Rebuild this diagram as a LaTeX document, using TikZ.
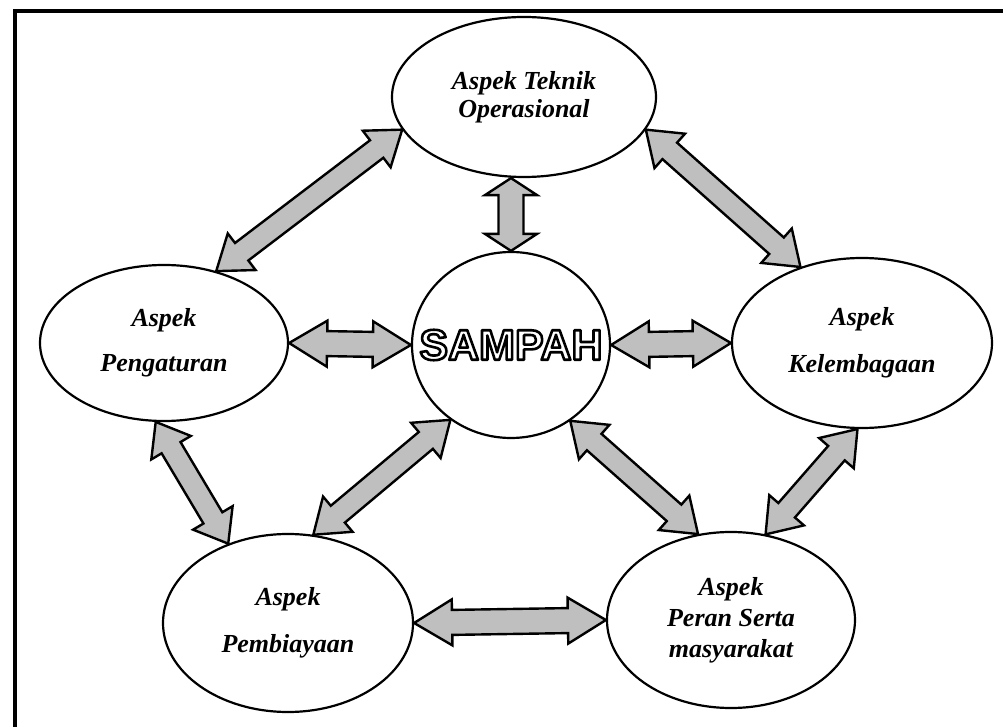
\documentclass[tikz,border=0pt]{standalone}
\usepackage{fontspec}
\setmainfont{Liberation Serif}
\newfontfamily\headfont{Liberation Sans}
\usetikzlibrary{calc,shapes.geometric}

% hollow lettering: white fill, black stroked outline
\newcommand\hollow[1]{{\color{white}%
  \special{pdf:literal direct q 2 Tr 1.3 w 0 G 1 j}#1\special{pdf:literal direct Q}}}

% double-headed block arrow between two points:
% #1 start, #2 end, #3 head length, #4 half head width, #5 half shaft width
\newcommand\twoway[5]{%
  \draw[blockarrow] (#1)
    -- ($(#1)!#3!(#2)!#4!90:(#2)$)
    -- ($(#1)!#3!(#2)!#5!90:(#2)$)
    -- ($(#2)!#3!(#1)!#5!-90:(#1)$)
    -- ($(#2)!#3!(#1)!#4!-90:(#1)$)
    -- (#2)
    -- ($(#2)!#3!(#1)!#4!90:(#1)$)
    -- ($(#2)!#3!(#1)!#5!90:(#1)$)
    -- ($(#1)!#3!(#2)!#5!-90:(#2)$)
    -- ($(#1)!#3!(#2)!#4!-90:(#2)$)
    -- cycle;}

\tikzset{
  aspect/.style={ellipse, draw, fill=white, line width=1.1pt, inner sep=0pt,
    align=center, font=\bfseries\itshape\fontsize{13}{#1}\selectfont},
  blockarrow/.style={draw, line width=1.2pt, fill=black!25, line join=miter}
}

\begin{document}
\begin{tikzpicture}[x=0.5pt, y=-0.5pt]
\useasboundingbox (0,0) rectangle (1003,727);

% outer frame
\draw[line width=2pt] (15,740) -- (15,11) -- (1010,11);

% the six nodes
\path
  node[aspect=14,   minimum width=132pt, minimum height=80pt] (T)  at (524,97)  {Aspek Teknik\\Operasional}
  node[aspect=22.5, minimum width=124pt, minimum height=78pt] (L)  at (164,343) {Aspek\\Pengaturan}
  node[aspect=23.5, minimum width=130pt, minimum height=85pt] (R)  at (862,343) {Aspek\\Kelembagaan}
  node[aspect=23.5, minimum width=125pt, minimum height=89pt] (BL) at (288,623) {Aspek\\Pembiayaan}
  node[aspect=15.5, minimum width=124pt, minimum height=88pt] (BR) at (731,620) {Aspek\\Peran Serta\\masyarakat}
  node[ellipse, draw, fill=white, line width=1.1pt, inner sep=0pt,
       minimum width=99pt, minimum height=93pt,
       font=\headfont\bfseries\fontsize{21.5}{21.5}\selectfont] (S) at (511,345)
       {\makebox[0pt]{\hollow{SAMPAH}}};

\coordinate (TS) at (S.north |- T.south);

% connectors
\twoway{T.195}{L.54}{16pt}{11.5pt}{5.5pt}
\twoway{T.345}{R.129}{16pt}{11.5pt}{5.5pt}
\twoway{TS}{S.north}{8.5pt}{13pt}{6.25pt}
\twoway{L.east}{S.west}{19pt}{11.5pt}{6.25pt}
\twoway{S.east}{R.west}{19pt}{11.5pt}{6.25pt}
\twoway{L.264}{BL.127}{15pt}{11.5pt}{5.5pt}
\twoway{S.231}{BL.74}{16pt}{11.5pt}{5.5pt}
\twoway{S.308}{BR.111}{16pt}{11.5pt}{5.5pt}
\twoway{R.267}{BR.68}{16pt}{11.5pt}{5.5pt}
\twoway{BL.east}{BR.west}{19pt}{11.5pt}{6.25pt}
\end{tikzpicture}
\end{document}
